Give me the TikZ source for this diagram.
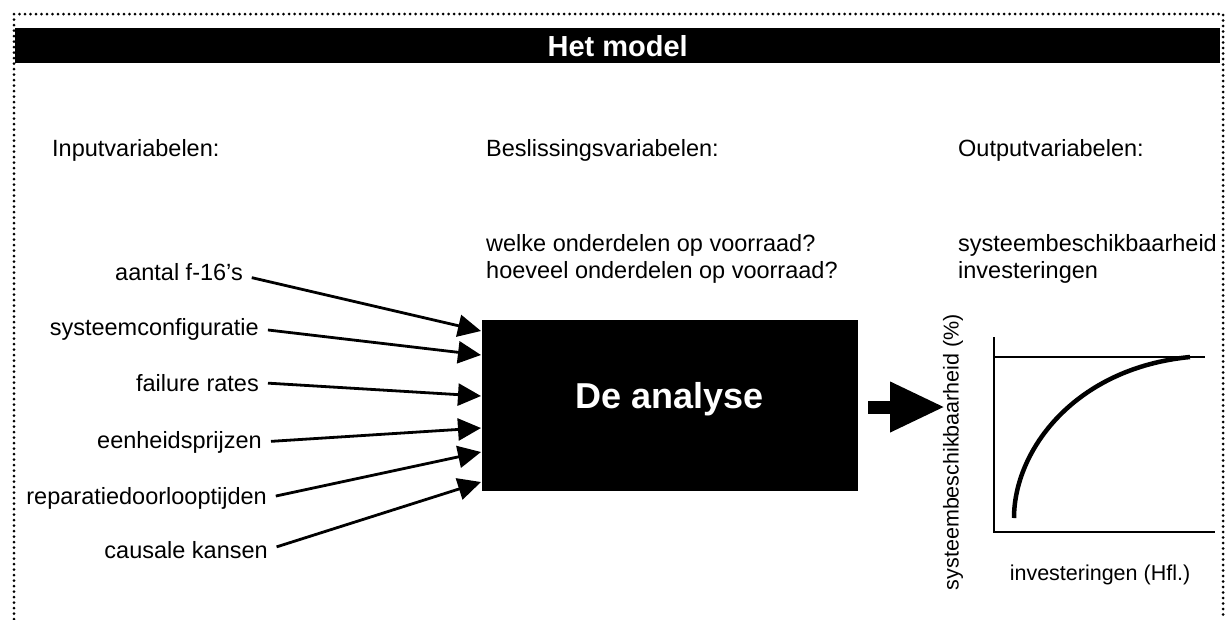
\documentclass[tikz,border=0pt]{standalone}
\usepackage{fontspec}
\setmainfont{Liberation Sans}
\usetikzlibrary{arrows.meta,calc}
\begin{document}
\begin{tikzpicture}[x=1pt,y=-1pt,
  txt/.style={font=\fontsize{23.5}{28}\selectfont, inner sep=0pt},
  charttxt/.style={font=\fontsize{21.5}{25}\selectfont, inner sep=0pt},
  dotborder/.style={line width=3pt, line cap=round, dash pattern=on 0pt off 5.5pt},
  inarrow/.style={line width=2.8pt, shorten <=9pt, -{Triangle[length=23pt,width=22pt]}},
  bigarrow/.style={line width=13pt, -{Triangle[length=55pt,width=47pt]}},
  axisline/.style={line width=2.2pt},
  blackbox/.style={fill=black, draw=none, inner sep=0pt}]
\useasboundingbox (0,0) rectangle (1226,619);

% dotted frame, open at the bottom
\draw[dotborder] (14,619) -- (14,14) -- (1223,14) -- (1223,619);

% title bar
\node[blackbox, anchor=north west, minimum width=1205pt, minimum height=35pt] (bar) at (15,28) {};
\node[font=\fontsize{29}{32}\bfseries, text=white, inner sep=0pt] (title) at (bar.center) {Het model};

% column headings
\node[txt, anchor=base west] (hin)  at (52,156)  {Inputvariabelen:};
\node[txt, anchor=base west] (hdec) at (486,156) {Beslissingsvariabelen:};
\node[txt, anchor=base west] (hout) at (958,156) {Outputvariabelen:};

% decision and output variables
\node[txt, anchor=base west] (dec1) at (486,251) {welke onderdelen op voorraad?};
\node[txt, anchor=base west] (dec2) at (486,278) {hoeveel onderdelen op voorraad?};
\node[txt, anchor=base west] (out1) at (958,251) {systeembeschikbaarheid};
\node[txt, anchor=base west] (out2) at (958,278) {investeringen};

% the analysis block
\node[blackbox, minimum width=376pt, minimum height=171pt] (box) at (670,405.5) {};
\node[font=\fontsize{36}{40}\bfseries, text=white, inner sep=0pt, anchor=base] (boxlbl) at (670,408) {De analyse};

% input variables
\node[txt, anchor=base east] (in1) at (243,280) {aantal f-16's};
\node[txt, anchor=base east] (in2) at (259,335) {systeemconfiguratie};
\node[txt, anchor=base east] (in3) at (259,391) {failure rates};
\node[txt, anchor=base east] (in4) at (262,448) {eenheidsprijzen};
\node[txt, anchor=base east] (in5) at (267,504) {reparatiedoorlooptijden};
\node[txt, anchor=base east] (in6) at (268,558) {causale kansen};

% entry points on the left side of the block
\coordinate (t1) at (481,331);
\coordinate (t2) at (481,355);
\coordinate (t3) at (481,396);
\coordinate (t4) at (481,428);
\coordinate (t5) at (481,452);
\coordinate (t6) at (481,482);

\draw[inarrow] ([yshift=-4pt]in1.east) -- (t1);
\draw[inarrow] (in2.east) -- (t2);
\draw[inarrow] (in3.east) -- (t3);
\draw[inarrow] (in4.east) -- (t4);
\draw[inarrow] (in5.east) -- (t5);
\draw[inarrow] (in6.east) -- (t6);

% output arrow
\coordinate (outtip) at (945,407);
\draw[bigarrow] ([xshift=10pt,yshift=-1.5pt]box.east) -- (outtip);

% availability versus investment chart
\draw[axisline] (994,337) -- (994,532) -- (1215,532);
\draw[axisline] (994,357) -- (1205,357);
\draw[line width=4.5pt] (1014,518) .. controls (1014,450) and (1075,368) .. (1190,357);
\node[charttxt, rotate=90] (ylab) at (953,452) {systeembeschikbaarheid (\%)};
\node[charttxt] (xlab) at (1100,575) {investeringen (Hfl.)};
\end{tikzpicture}
\end{document}
